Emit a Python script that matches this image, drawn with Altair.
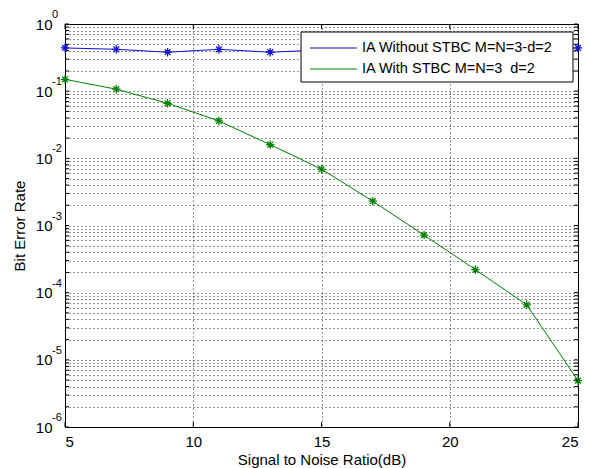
import altair as alt
import pandas as pd

snr = [5, 7, 9, 11, 13, 15, 17, 19, 21, 23, 25]
ber_without = [0.44, 0.42, 0.38, 0.42, 0.38, 0.41, 0.40, 0.42, 0.39, 0.41, 0.44]
ber_with = [0.15, 0.107, 0.066, 0.036, 0.016, 0.0069, 0.0023, 0.00072, 0.00022, 0.000066, 0.0000049]
series_names = ["IA Without STBC M=N=3-d=2", "IA With STBC M=N=3\u00a0 d=2"]
series_colors = ["#1010d0", "#008000"]

decades = [1, 1e-1, 1e-2, 1e-3, 1e-4, 1e-5, 1e-6]
exponents = ["0", "-1", "-2", "-3", "-4", "-5", "-6"]
x_ticks = [5, 10, 15, 20, 25]

W, H = 513, 403
FONT = "Liberation Sans"

rows = []
for s, vals in zip(series_names, [ber_without, ber_with]):
    for x, v in zip(snr, vals):
        rows.append({"snr": x, "ber": v, "series": s})
df = pd.DataFrame(rows)

grid_vals = []
for d in decades[1:]:
    for m in range(1, 10):
        grid_vals.append(m * d)
grid_vals.append(1.0)

xscale = alt.Scale(domain=[5, 25], nice=False, zero=False)
yscale = alt.Scale(type="log", domain=[1e-6, 1], nice=False)
cscale = alt.Scale(domain=series_names, range=series_colors)

yaxis = alt.Axis(
    title="Bit Error Rate",
    values=grid_vals,
    labelExpr="abs(log(datum.value)/LN10 - round(log(datum.value)/LN10)) < 1e-6 ? '10' : ''",
    grid=True,
    gridDash=[1, 3],
    gridColor="#000",
    gridOpacity=0.85,
    ticks=False,
    labelPadding=13,
    labelFont=FONT,
    labelFontSize=15,
    labelColor="#000",
    titleFont=FONT,
    titleFontSize=15,
    titleFontWeight="normal",
    titleColor="#000",
    titlePadding=8,
    domain=False,
)
xaxis = alt.Axis(
    title="Signal to Noise Ratio(dB)",
    values=x_ticks,
    grid=True,
    gridDash=[1, 3],
    gridColor="#000",
    gridOpacity=0.85,
    ticks=False,
    labelPadding=7,
    labelFont=FONT,
    labelFontSize=15,
    labelColor="#000",
    titleFont=FONT,
    titleFontSize=15,
    titleFontWeight="normal",
    titleColor="#000",
    titlePadding=3,
    domain=False,
)

base = alt.Chart(df)
lines = base.mark_line(strokeWidth=1).encode(
    x=alt.X("snr:Q", scale=xscale, axis=xaxis),
    y=alt.Y("ber:Q", scale=yscale, axis=yaxis),
    color=alt.Color("series:N", scale=cscale, legend=None),
)
star = "M-1,0L1,0M0,-1L0,1M-0.7,-0.7L0.7,0.7M-0.7,0.7L0.7,-0.7"
points = base.mark_point(shape=star, filled=False, size=70, strokeWidth=1.3, opacity=1).encode(
    x=alt.X("snr:Q", scale=xscale),
    y=alt.Y("ber:Q", scale=yscale),
    color=alt.Color("series:N", scale=cscale, legend=None),
)

exp_df = pd.DataFrame({"v": decades, "e": exponents})
exps = alt.Chart(exp_df).mark_text(
    align="left", baseline="middle", font=FONT, fontSize=11, color="#000", dy=-9
).encode(
    x=alt.value(-13),
    y=alt.Y("v:Q", scale=yscale),
    text="e:N",
)

# inner tick marks (MATLAB style)
yt_df = pd.DataFrame({"v": grid_vals})
xt_df = pd.DataFrame({"v": x_ticks})
tick_layers = [
    alt.Chart(yt_df).mark_rule(color="#000", strokeWidth=1).encode(
        y=alt.Y("v:Q", scale=yscale), x=alt.value(0), x2=alt.value(4)),
    alt.Chart(yt_df).mark_rule(color="#000", strokeWidth=1).encode(
        y=alt.Y("v:Q", scale=yscale), x=alt.value(W - 4), x2=alt.value(W)),
    alt.Chart(xt_df).mark_rule(color="#000", strokeWidth=1).encode(
        x=alt.X("v:Q", scale=xscale), y=alt.value(H - 5), y2=alt.value(H)),
    alt.Chart(xt_df).mark_rule(color="#000", strokeWidth=1).encode(
        x=alt.X("v:Q", scale=xscale), y=alt.value(0), y2=alt.value(5)),
]

# legend box (drawn by hand, MATLAB style)
one = pd.DataFrame({"a": [0]})
leg_box = alt.Chart(one).mark_rect(fill="#fff", stroke="#000", strokeWidth=1).encode(
    x=alt.value(236), x2=alt.value(508), y=alt.value(8), y2=alt.value(58)
)
leg_layers = [leg_box]
for i, (name, col) in enumerate(zip(series_names, series_colors)):
    yy = 24 + 21 * i
    d = pd.DataFrame({"name": [name]})
    leg_layers.append(
        alt.Chart(d).mark_rule(color=col, strokeWidth=1).encode(
            x=alt.value(245), x2=alt.value(292), y=alt.value(yy))
    )
    leg_layers.append(
        alt.Chart(d).mark_text(align="left", baseline="middle", font=FONT, fontSize=14.5, color="#000").encode(
            x=alt.value(297), y=alt.value(yy), text="name:N")
    )

chart = (
    alt.layer(lines, points, exps, *tick_layers, *leg_layers)
    .properties(
        width=W,
        height=H,
        autosize=alt.AutoSizeParams(type="none"),
        padding={"left": 65, "top": 24, "right": 11, "bottom": 41},
        background="#fff",
    )
    .configure_view(stroke="#000", strokeWidth=1)
)
chart.save("out.html", embed_options={"renderer": "svg", "actions": False})
